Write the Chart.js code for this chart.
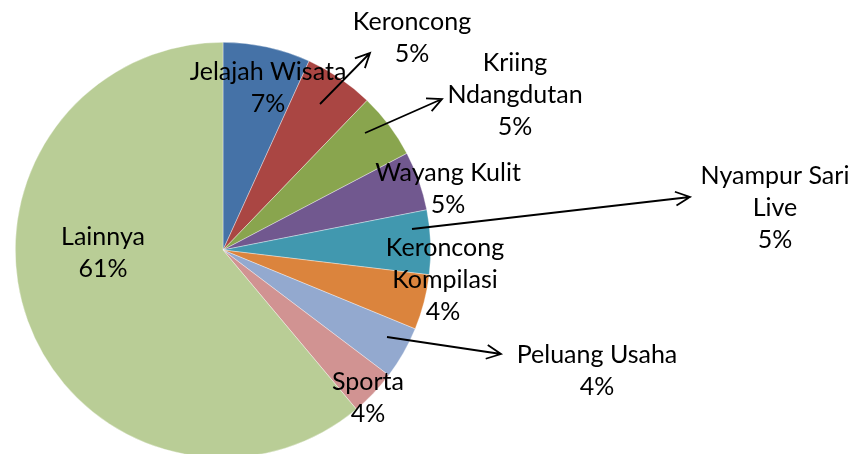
<!DOCTYPE html>
<html>
<head>
    <title>Pie Chart</title>
    <script src="https://cdn.jsdelivr.net/npm/chart.js"></script>
    <style>
        body { margin: 0; background: #fff; }
        .chart-container {
            width: 855px;
            height: 454px;
            overflow: hidden;
            position: relative;
        }
    </style>
</head>
<body>
    <div class="chart-container">
        <canvas id="pieChart" width="855" height="470"></canvas>
    </div>
    <script>
        const categories = ['Jelajah Wisata', 'Keroncong', 'Kriing\nNdangdutan', 'Wayang Kulit', 'Nyampur Sari\nLive', 'Keroncong\nKompilasi', 'Peluang Usaha', 'Sporta', 'Lainnya'];
        const shares = [6.8, 5.4, 5.1, 4.6, 5.0, 4.3, 4.1, 3.6, 61.1];
        const colors = ['#4572A7', '#AA4643', '#89A54E', '#71588F', '#4198AF', '#DB843D', '#93A9CF', '#D19392', '#B9CD96'];

        // label anchor (center of first line) and optional arrow [fromX, fromY, toX, toY]
        const labelLayout = [
            { x: 268, y: 72, arrow: null },
            { x: 412, y: 22, arrow: [320, 104, 370, 53] },
            { x: 515, y: 63, arrow: [365, 133, 442, 99] },
            { x: 448, y: 173, arrow: null },
            { x: 775, y: 176, arrow: [412, 229, 690, 197] },
            { x: 445, y: 248, arrow: null, pctX: 443 },
            { x: 597, y: 355, arrow: [387, 337, 501, 354] },
            { x: 368, y: 382, arrow: null },
            { x: 103, y: 237, arrow: null }
        ];

        const total = shares.reduce((a, b) => a + b, 0);

        const labelPlugin = {
            id: 'labelPlugin',
            afterDatasetsDraw(chart) {
                const ctx = chart.ctx;
                ctx.save();
                ctx.font = '25px Lato';
                ctx.fillStyle = '#000';
                ctx.textAlign = 'center';
                ctx.textBaseline = 'middle';
                const lineH = 32;
                categories.forEach((name, i) => {
                    const pos = labelLayout[i];
                    const lines = name.split('\n');
                    lines.forEach((ln, k) => ctx.fillText(ln, pos.x, pos.y + k * lineH));
                    const pct = Math.round(shares[i] / total * 100) + '%';
                    ctx.fillText(pct, pos.pctX || pos.x, pos.y + lines.length * lineH);
                });
                // arrows
                ctx.strokeStyle = '#000';
                ctx.lineWidth = 1.8;
                labelLayout.forEach(pos => {
                    if (!pos.arrow) return;
                    const [x1, y1, x2, y2] = pos.arrow;
                    const ang = Math.atan2(y2 - y1, x2 - x1);
                    ctx.beginPath();
                    ctx.moveTo(x1, y1);
                    ctx.lineTo(x2, y2);
                    ctx.moveTo(x2 - 16 * Math.cos(ang - 0.45), y2 - 16 * Math.sin(ang - 0.45));
                    ctx.lineTo(x2, y2);
                    ctx.lineTo(x2 - 16 * Math.cos(ang + 0.45), y2 - 16 * Math.sin(ang + 0.45));
                    ctx.stroke();
                });
                ctx.restore();
            }
        };

        new Chart(document.getElementById('pieChart'), {
            type: 'pie',
            data: {
                labels: categories,
                datasets: [{
                    data: shares,
                    backgroundColor: colors,
                    borderColor: 'rgba(255,255,255,0.6)',
                    borderWidth: 0.6
                }]
            },
            options: {
                responsive: false,
                animation: false,
                layout: { padding: { top: 42, bottom: 12, left: 15, right: 424 } },
                plugins: {
                    legend: { display: false },
                    tooltip: { enabled: false }
                }
            },
            plugins: [labelPlugin]
        });
    </script>
</body>
</html>
